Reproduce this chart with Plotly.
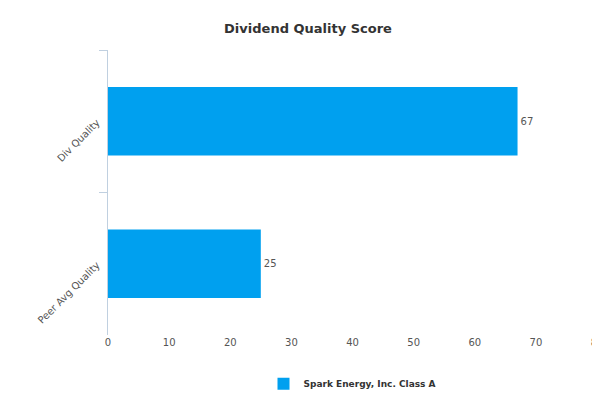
import plotly.graph_objects as go

categories = ["Div Quality", "Peer Avg Quality"]
values = [67, 25]
series_name = "Spark Energy, Inc. Class A"

fig = go.Figure()
fig.add_trace(go.Bar(
    y=categories, x=values, orientation="h", name=series_name,
    marker=dict(color="#00a0ef", line=dict(width=0)),
    width=0.48, text=values, textposition="outside",
    textfont=dict(size=10, color="#555555"), cliponaxis=False,
    showlegend=True,
))

fig.update_layout(
    width=600, height=400,
    margin=dict(l=100, r=11, t=42, b=73, autoexpand=False),
    paper_bgcolor="white", plot_bgcolor="white",
    font=dict(family="DejaVu Sans", size=10, color="#555555"),
    title=dict(text="<b>Dividend Quality Score</b>", x=0.5, y=0.96, xanchor="center",
               font=dict(size=13, color="#333333")),
    xaxis=dict(range=[0, 80], dtick=10, showgrid=False, zeroline=False,
               showline=False, ticks="", automargin=False,
               tickfont=dict(size=10, color="#555555")),
    yaxis=dict(autorange="reversed", showgrid=False, showline=True,
               linecolor="#c0d0e0", linewidth=1, ticks="outside", ticklen=8,
               tickcolor="#c0d0e0", tickangle=-45, tickson="boundaries",
               ticklabelstandoff=8, automargin=False,
               tickfont=dict(size=10, color="#555555")),
    legend=dict(orientation="h", x=0.5, xanchor="center", y=-0.12, yanchor="top",
                font=dict(size=9, color="#333333", family="DejaVu Sans")),
    bargap=0.52,
)
fig.data[0].name = "<b>" + series_name + "</b>"
fig.add_annotation(text="www.capitalcube.com", xref="paper", yref="paper",
                   x=1, y=-0.22, xanchor="right", yanchor="top", showarrow=False,
                   font=dict(size=9, color="#888888"))

fig.write_html("out.html")
